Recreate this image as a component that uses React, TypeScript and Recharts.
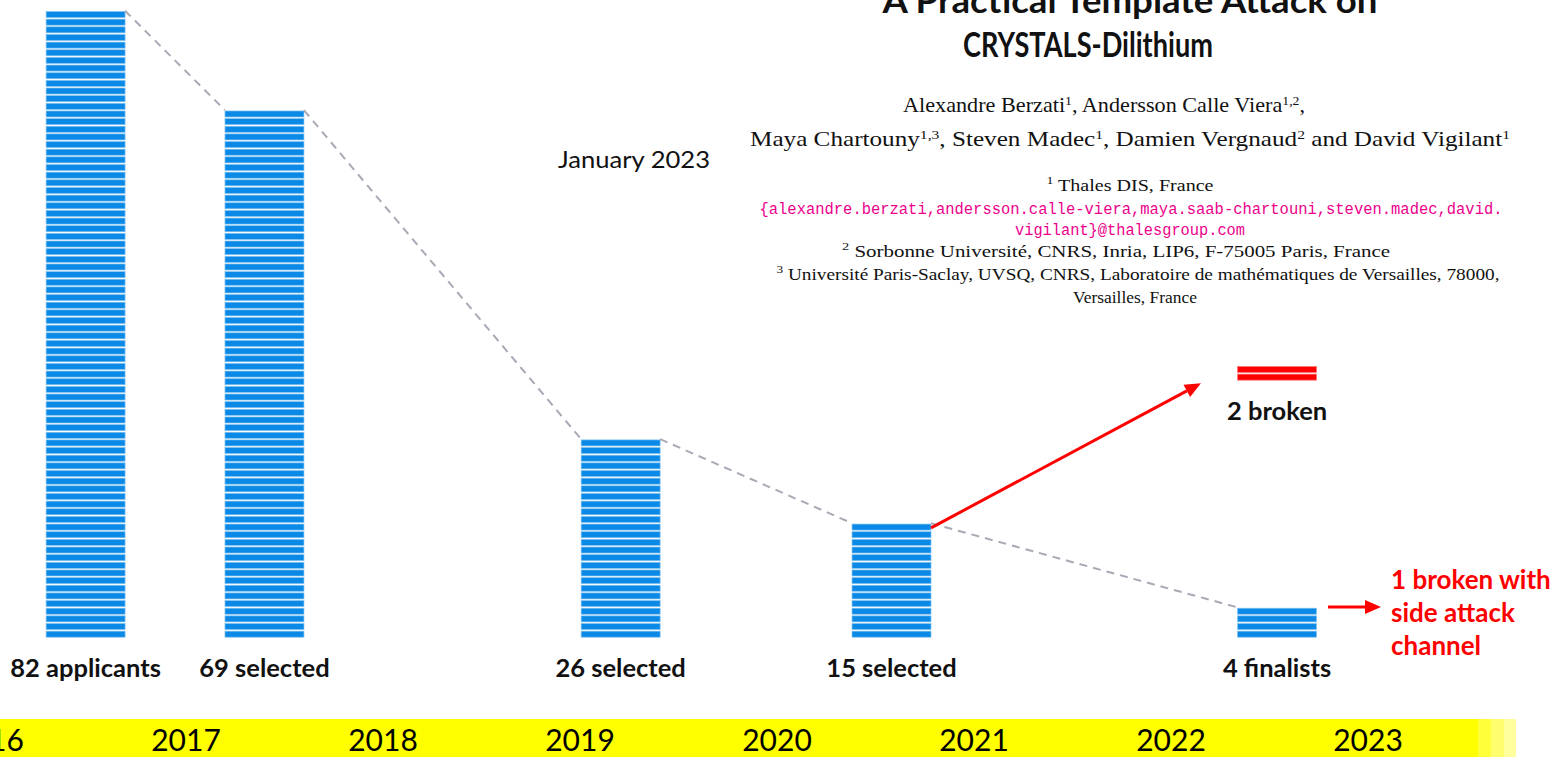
import React from 'react';
import { ComposedChart, Bar, XAxis, YAxis, ReferenceLine } from 'recharts';

// NIST post-quantum signature/KEM selection funnel
const stageLabels = ['82 applicants', '69 selected', '26 selected', '15 selected', '4 finalists', '2 broken'];
const stageYears = [2016.49, 2017.398, 2019.206, 2020.581, 2022.538, 2022.538];
const stageCounts = [82, 69, 26, 15, 4, 2];
const stageBase = [0, 0, 0, 0, 0, 33.6];
const stageStatus = ['open', 'open', 'open', 'open', 'open', 'broken'];
const yearTicks = [2016, 2017, 2018, 2019, 2020, 2021, 2022, 2023];

// red arrows (year, count) -> (year, count)
const arrowStarts = [{ x: 2020.782, y: 14.4 }, { x: 2022.797, y: 4.05 }];
const arrowEnds = [{ x: 2022.152, y: 33.3 }, { x: 2023.066, y: 4.05 }];

const sideNote = ['1 broken with', 'side attack', 'channel'];
const dateNote = 'January 2023';
const titleLines = ['A Practical Template Attack on', 'CRYSTALS-Dilithium'];

type Seg = { t: string; sup?: boolean };
const authorLines: Seg[][] = [
  [{ t: 'Alexandre Berzati' }, { t: '1', sup: true }, { t: ', Andersson Calle Viera' }, { t: '1,2', sup: true }, { t: ',' }],
  [
    { t: 'Maya Chartouny' }, { t: '1,3', sup: true }, { t: ', Steven Madec' }, { t: '1', sup: true },
    { t: ', Damien Vergnaud' }, { t: '2', sup: true }, { t: ' and David Vigilant' }, { t: '1', sup: true },
  ],
];
const affLines: Seg[][] = [
  [{ t: '1', sup: true }, { t: ' Thales DIS, France' }],
  [{ t: '{alexandre.berzati,andersson.calle-viera,maya.saab-chartouni,steven.madec,david.' }],
  [{ t: 'vigilant}@thalesgroup.com' }],
  [{ t: '2', sup: true }, { t: ' Sorbonne Université, CNRS, Inria, LIP6, F-75005 Paris, France' }],
  [{ t: '3', sup: true }, { t: ' Université Paris-Saclay, UVSQ, CNRS, Laboratoire de mathématiques de Versailles, 78000,' }],
  [{ t: 'Versailles, France' }],
];

const W = 1556;
const H = 757;
const SHIFT = 50;
const CHART_W = W + SHIFT;
const PX_PER_YEAR = 197;
const X_MIN = 2016 - (SHIFT - 11) / PX_PER_YEAR;
const X_MAX = X_MIN + CHART_W / PX_PER_YEAR;
const PLOT_BOTTOM = 638;
const Y_MAX = PLOT_BOTTOM / 7.65;
const BAR_W = 79;
const BAR_HALF = BAR_W / 2 / PX_PER_YEAR;

const CALIBRI = "Lato, 'Open Sans', sans-serif";
const SERIF = "'Liberation Serif', 'DejaVu Serif', serif";
const MONO = "'Liberation Mono', 'DejaVu Sans Mono', monospace";

const data = stageLabels.map((label, i) => ({
  label,
  year: stageYears[i],
  count: stageCounts[i],
  status: stageStatus[i],
  range: [stageBase[i], stageBase[i] + stageCounts[i]],
}));

function StripedBar(props: any) {
  const { x, y, width, height, payload } = props;
  const n = payload.count;
  const pitch = height / n;
  const broken = payload.status === 'broken';
  const fill = broken ? '#FF0000' : '#0A8AE6';
  const edge = broken ? '#FF7A7A' : '#86C4F1';
  return (
    <g>
      {Array.from({ length: n }, (_, i) => (
        <rect
          key={i}
          x={x}
          y={y + i * pitch + 0.8}
          width={width}
          height={pitch - 1.6}
          fill={fill}
          stroke={edge}
          strokeWidth={0.7}
        />
      ))}
      <text
        x={x + width / 2}
        y={y + height + 39}
        textAnchor="middle"
        fontFamily={CALIBRI}
        fontWeight="bold"
        fontSize={25.5}
        fill="#111"
      >
        {payload.label}
      </text>
    </g>
  );
}

function YearTick(props: any) {
  const { x, payload } = props;
  return (
    <text x={x} y={751} textAnchor="middle" fontFamily={CALIBRI} fontSize={30} fill="#000">
      {payload.value}
    </text>
  );
}

function Arrow(props: any) {
  const { x1, y1, x2, y2 } = props;
  const a = Math.atan2(y2 - y1, x2 - x1);
  const len = 16;
  const half = 7;
  const bx = x2 - len * Math.cos(a);
  const by = y2 - len * Math.sin(a);
  const pts = [
    [x2, y2],
    [bx + half * Math.sin(a), by - half * Math.cos(a)],
    [bx - half * Math.sin(a), by + half * Math.cos(a)],
  ]
    .map((p) => p.join(','))
    .join(' ');
  return (
    <g>
      <line x1={x1} y1={y1} x2={bx} y2={by} stroke="#FF0000" strokeWidth={3} />
      <polygon points={pts} fill="#FF0000" />
    </g>
  );
}

function SegText({ segs, supSize, ...rest }: any) {
  let raised = false;
  return (
    <text {...rest}>
      {segs.map((s: Seg, i: number) => {
        let dy = 0;
        if (s.sup && !raised) { dy = -7; raised = true; }
        else if (!s.sup && raised) { dy = 7; raised = false; }
        return (
          <tspan key={i} dy={dy} fontSize={s.sup ? supSize : undefined}>
            {s.t}
          </tspan>
        );
      })}
    </text>
  );
}

export default function App() {
  return (
    <div style={{ position: 'absolute', left: 0, top: 0, width: W, height: H, overflow: 'hidden', background: '#fff' }}>
      {/* timeline band */}
      <div style={{ position: 'absolute', left: 0, top: 719, width: 1478, height: 38, background: '#FFFF00' }} />
      <div style={{ position: 'absolute', left: 1478, top: 719, width: 13, height: 38, background: '#FFFF3A' }} />
      <div style={{ position: 'absolute', left: 1491, top: 719, width: 13, height: 38, background: '#FFFF6E' }} />
      <div style={{ position: 'absolute', left: 1504, top: 719, width: 12, height: 38, background: '#FFFF9E' }} />

      <div style={{ position: 'absolute', left: -SHIFT, top: 0 }}>
        <ComposedChart width={CHART_W} height={H} data={data} margin={{ top: 0, right: 0, bottom: 0, left: 0 }}>
          <XAxis
            dataKey="year"
            type="number"
            domain={[X_MIN, X_MAX]}
            ticks={yearTicks}
            interval={0}
            tick={<YearTick />}
            axisLine={false}
            tickLine={false}
            height={H - PLOT_BOTTOM}
          />
          <YAxis hide type="number" domain={[0, Y_MAX]} />
          {stageYears.slice(0, 4).map((yr, i) => (
            <ReferenceLine
              key={'c' + i}
              segment={[
                { x: yr + BAR_HALF, y: stageCounts[i] },
                { x: stageYears[i + 1] - BAR_HALF, y: stageCounts[i + 1] },
              ]}
              stroke="#A9A9B6"
              strokeWidth={2}
              strokeDasharray="8 6"
              ifOverflow="visible"
            />
          ))}
          <Bar dataKey="range" barSize={BAR_W} shape={<StripedBar />} isAnimationActive={false} />
          {arrowStarts.map((s, i) => (
            <ReferenceLine
              key={'a' + i}
              segment={[s, arrowEnds[i]]}
              shape={<Arrow />}
              ifOverflow="visible"
            />
          ))}
        </ComposedChart>
      </div>

      <svg width={W} height={H} style={{ position: 'absolute', left: 0, top: 0, pointerEvents: 'none' }}>
        <text x={1130} y={13} textAnchor="middle" fontFamily={CALIBRI} fontWeight="bold" fontSize={34}
          textLength={495} lengthAdjust="spacingAndGlyphs" fill="#111">{titleLines[0]}</text>
        <text x={1088} y={57} textAnchor="middle" fontFamily={CALIBRI} fontWeight="bold" fontSize={35}
          textLength={250} lengthAdjust="spacingAndGlyphs" fill="#111">{titleLines[1]}</text>

        <SegText segs={authorLines[0]} supSize={13} x={1104} y={112} textAnchor="middle" fontFamily={SERIF}
          fontSize={21} fill="#111" textLength={402} lengthAdjust="spacingAndGlyphs" />
        <SegText segs={authorLines[1]} supSize={13} x={1130} y={146} textAnchor="middle" fontFamily={SERIF}
          fontSize={21} fill="#111" textLength={760} lengthAdjust="spacingAndGlyphs" />

        <SegText segs={affLines[0]} supSize={11} x={1130} y={191} textAnchor="middle" fontFamily={SERIF}
          fontSize={16} fill="#111" textLength={167} lengthAdjust="spacingAndGlyphs" />
        <SegText segs={affLines[1]} supSize={11} x={1131} y={214} textAnchor="middle" fontFamily={MONO}
          fontSize={16} fill="#EC008C" textLength={743} lengthAdjust="spacingAndGlyphs" />
        <SegText segs={affLines[2]} supSize={11} x={1130} y={235} textAnchor="middle" fontFamily={MONO}
          fontSize={16} fill="#EC008C" textLength={230} lengthAdjust="spacingAndGlyphs" />
        <SegText segs={affLines[3]} supSize={11} x={1116} y={257} textAnchor="middle" fontFamily={SERIF}
          fontSize={16} fill="#111" textLength={548} lengthAdjust="spacingAndGlyphs" />
        <SegText segs={affLines[4]} supSize={11} x={1138} y={280} textAnchor="middle" fontFamily={SERIF}
          fontSize={16} fill="#111" textLength={723} lengthAdjust="spacingAndGlyphs" />
        <SegText segs={affLines[5]} supSize={11} x={1135} y={303} textAnchor="middle" fontFamily={SERIF}
          fontSize={16} fill="#111" textLength={124} lengthAdjust="spacingAndGlyphs" />

        <text x={558} y={168} fontFamily={CALIBRI} fontSize={23} fill="#111" textLength={152}
          lengthAdjust="spacingAndGlyphs">{dateNote}</text>

        {sideNote.map((line, i) => (
          <text key={i} x={1391} y={589 + i * 33} fontFamily={CALIBRI} fontWeight="bold" fontSize={26}
            fill="#FF0000">{line}</text>
        ))}
      </svg>
    </div>
  );
}
